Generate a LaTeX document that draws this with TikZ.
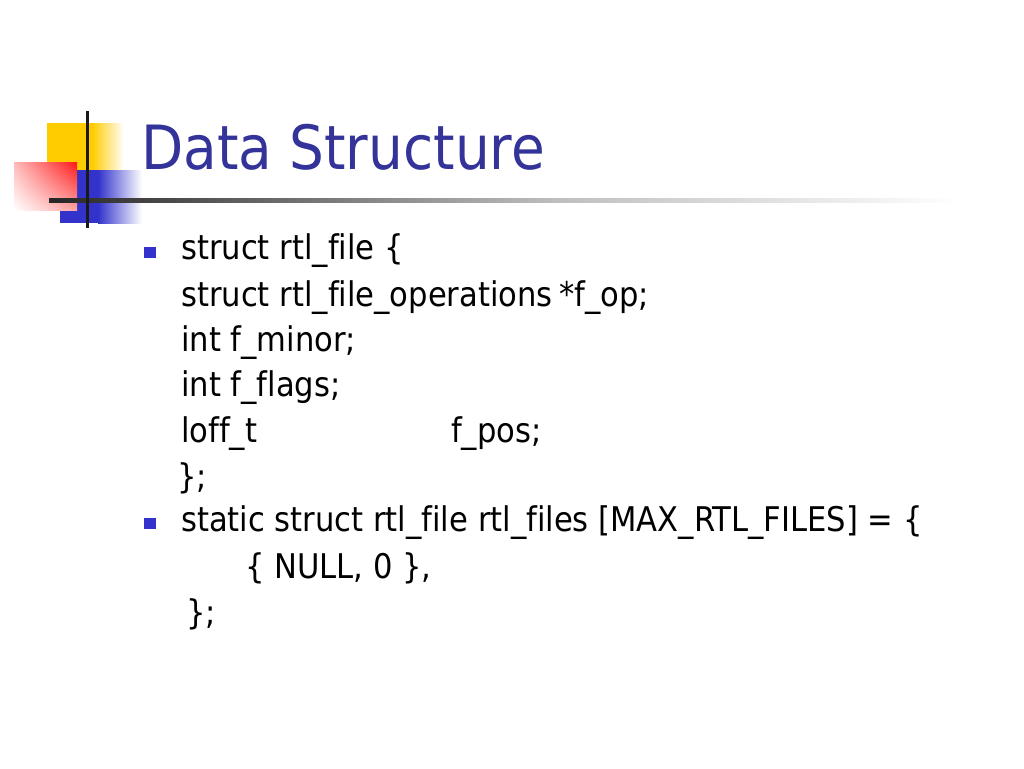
\documentclass[tikz,border=0pt]{standalone}
\usepackage{fontspec}
\usetikzlibrary{shadings}
\setmainfont[Ligatures={NoCommon}]{DejaVu Sans Condensed}
\definecolor{titleblue}{HTML}{333399}
\definecolor{bulletblue}{HTML}{3333CC}
\definecolor{logoyellow}{HTML}{FFCC00}
\definecolor{logoblue}{HTML}{3333CC}
\definecolor{logored}{HTML}{FF1818}
\begin{document}
\begin{tikzpicture}[x=1pt,y=-1pt,
  body/.style={anchor=base west,inner sep=0pt,font=\fontsize{34}{40}\selectfont},
  titletext/.style={anchor=base west,inner sep=0pt,font=\fontsize{61}{70}\selectfont,text=titleblue},
  bulletsq/.style={fill=bulletblue,draw=none}]
\useasboundingbox[fill=white] (0,0) rectangle (1024,768);
% logo
\fill[logoyellow] (47,123) rectangle (92,195);
\shade[left color=logoyellow,right color=white] (92,123) rectangle (124,195);
\fill[logoblue] (60,170) rectangle (98,223);
\shade[left color=logoblue,right color=white] (98,170) rectangle (142,223);
\shade[upper left=logored!30,upper right=logored,lower left=white,lower right=logored!40] (14,162) rectangle (77,210);
\shade[left color=black!25,right color=white] (560,198) rectangle (960,202);
\shade[left color=black!85,right color=black!25] (49,198) rectangle (560,202);
\fill[black!90] (85.5,111) rectangle (88.5,228);
% title
\node[titletext] (title) at (141,169) {Data Structure};
% bullets
\fill[bulletsq] (144,247) rectangle (156,258);
\fill[bulletsq] (144,518) rectangle (156,529);
% body
\node[body] (l1) at (181,259) {struct rtl\_file \{};
\node[body] (l2) at (181,306) {struct rtl\_file\_operations};
\node[body] (l2b) at ([xshift=6pt]l2.base east) {*f\_op;};
\node[body] (l3) at (181,351) {int f\_minor;};
\node[body] (l4) at (181,396) {int f\_flags;};
\node[body] (l5) at (181,442) {loff\_t};
\node[body] (l5b) at (451,442) {f\_pos;};
\node[body] (l6) at (177,488) {\};};
\node[body] (l7) at (181,531) {static struct rtl\_file rtl\_files [MAX\_RTL\_FILES] = \{};
\node[body] (l8) at (245,578) {\{ NULL, 0 \},};
\node[body] (l9) at (186,624) {\};};
\end{tikzpicture}
\end{document}
